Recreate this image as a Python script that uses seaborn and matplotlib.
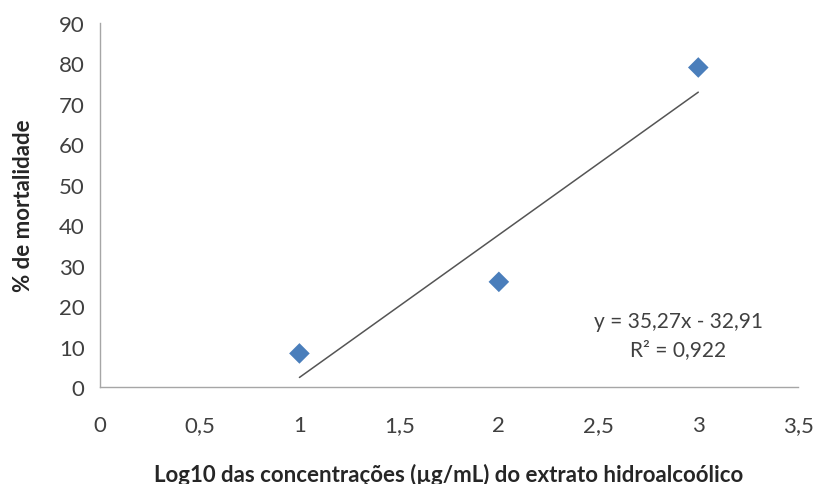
import numpy as np
import pandas as pd
import matplotlib
matplotlib.use("Agg")
import matplotlib.pyplot as plt
import seaborn as sns

# data
log_conc = [1, 2, 3]
mortality = [8.3, 26.0, 79.0]

# trend line as printed on the chart
slope = 35.27
intercept = -32.91
r2_label = "R² = 0,922"
eq_label = "y = 35,27x - 32,91"

x_ticks = [0, 0.5, 1, 1.5, 2, 2.5, 3, 3.5]
x_ticklabels = ["0", "0,5", "1", "1,5", "2", "2,5", "3", "3,5"]
y_ticks = [0, 10, 20, 30, 40, 50, 60, 70, 80, 90]

df = pd.DataFrame({"x": log_conc, "y": mortality})

sns.set_style("white")
plt.rcParams['font.family'] = ['Lato', 'DejaVu Sans']

fig = plt.figure(figsize=(8.16, 4.85), dpi=100)
ax = fig.add_axes([100 / 816, (485 - 388) / 485, 698 / 816, 364 / 485])

# trend line between the first and last x
xt = np.array([min(log_conc), max(log_conc)])
ax.plot(xt, slope * xt + intercept, color="#555555", lw=1.1, zorder=2)

sns.scatterplot(data=df, x="x", y="y", ax=ax, marker="D", s=110,
                color="#4a7ebb", edgecolor="none", zorder=3, clip_on=False)

ax.set_xlim(0, 3.5)
ax.set_ylim(0, 90)
ax.set_xticks(x_ticks)
ax.set_xticklabels(x_ticklabels)
ax.set_yticks(y_ticks)

for s in ["top", "right"]:
    ax.spines[s].set_visible(False)
for s in ["left", "bottom"]:
    ax.spines[s].set_color("#a6a6a6")
    ax.spines[s].set_linewidth(1.0)

ax.tick_params(axis="both", direction="out", length=6, width=1, color="#a6a6a6",
               labelsize=16, labelcolor="#404040")
ax.tick_params(axis="x", pad=14)
ax.tick_params(axis="y", pad=5)

ax.set_xlabel("Log10 das concentrações (µg/mL) do extrato hidroalcoólico",
              fontsize=16, fontweight="bold", color="#262626", labelpad=20)
ax.set_ylabel("% de mortalidade", fontsize=16, fontweight="bold",
              color="#262626", labelpad=18)

ax.text(2.9, 16.3, eq_label, ha="center", va="center", fontsize=15, color="#404040")
ax.text(2.9, 9.4, r2_label, ha="center", va="center", fontsize=15, color="#404040")

fig.savefig("out.png", dpi=100)
